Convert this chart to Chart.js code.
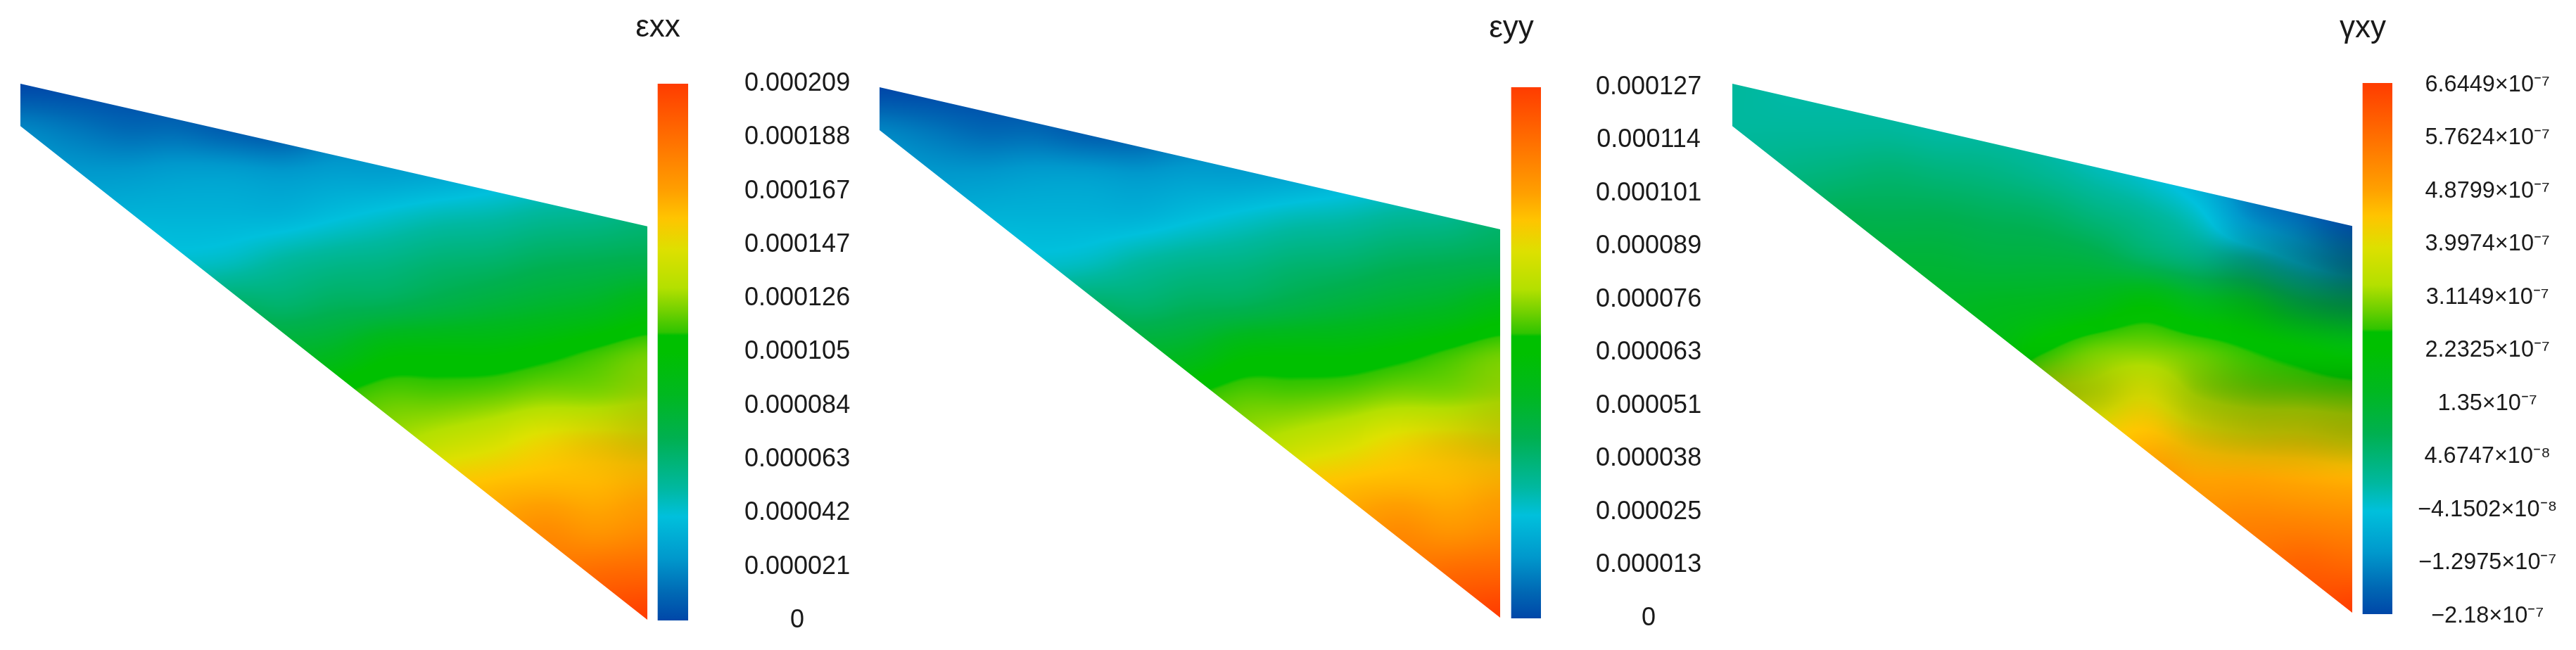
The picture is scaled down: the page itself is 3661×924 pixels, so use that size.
<!DOCTYPE html>
<html><head><meta charset="utf-8">
<style>html,body{margin:0;padding:0;background:#fff;width:3661px;height:924px;overflow:hidden}canvas{position:absolute;display:block}</style>
<script src="https://cdn.jsdelivr.net/npm/chart.js@4/dist/chart.umd.min.js"></script>
</head><body>
<script>
// ---- data: legend ----
const exxTitle = 'εxx', eyyTitle = 'εyy', gxyTitle = 'γxy';
const exxTicks = [0,0.0000209,0.0000418,0.0000627,0.0000836,0.0001045,0.0001254,0.0001463,0.0001672,0.0001881,0.000209];
const exxLabels = ['0','0.000021','0.000042','0.000063','0.000084','0.000105','0.000126','0.000147','0.000167','0.000188','0.000209'];
const eyyTicks = [0,0.0000127,0.0000254,0.0000381,0.0000508,0.0000635,0.0000762,0.0000889,0.0001016,0.0001143,0.000127];
const eyyLabels = ['0','0.000013','0.000025','0.000038','0.000051','0.000063','0.000076','0.000089','0.000101','0.000114','0.000127'];
const gxyTicks = [-2.18e-7,-1.2975e-7,-4.1502e-8,4.6747e-8,1.35e-7,2.2325e-7,3.1149e-7,3.9974e-7,4.8799e-7,5.7624e-7,6.6449e-7];
const gxyLabels = ['−2.18×10⁻⁷','−1.2975×10⁻⁷','−4.1502×10⁻⁸','4.6747×10⁻⁸','1.35×10⁻⁷','2.2325×10⁻⁷','3.1149×10⁻⁷','3.9974×10⁻⁷','4.8799×10⁻⁷','5.7624×10⁻⁷','6.6449×10⁻⁷'];

// ---- data: plate outline (percent of plot box) ----
const exxOutline = [[0,0],[100,26.6],[100,100],[0,7.9],[0,0]];
const eyyOutline = [[0,0],[100,26.8],[100,100],[0,8.1],[0,0]];
const gxyOutline = [[0,0],[100,26.9],[100,100],[0,8.0],[0,0]];

// ---- data: field, percent of colour-bar range ----
const gridCols = [0,8.33,16.67,25,33.33,41.67,50,58.33,66.67,75,83.33,91.67,100];
const gridRows = [0,8.33,16.67,25,33.33,41.67,50,58.33,66.67,75,83.33,91.67,100];
const exxField = [
 [0,0,0,0,0,0,0,0,0,0,5,8,10],
 [9,7,5,5,3,2,6,8,10,12,14,16,18],
 [13,12,12,13,13,12,13,13,14,16,18,20,24],
 [16,16,17,17,17,17,19,21,23,24,26,27,29],
 [20,20,22,21,22,25,27,28,30,31,33,34,35],
 [25,25,28,30,32,31,33,34,36,38,40,42,46],
 [35,35,36,38,40,40,42,48,49,49,51,54,57],
 [40,40,40,42,46,48,53,56,56,57,59,59,61],
 [45,45,45,46,50,52,55,60,64,67,71,72,71],
 [50,50,50,50,52,54,56,62,73,76,77,77,78],
 [55,55,55,55,56,58,60,64,75,80,84,82,84],
 [60,60,60,60,62,64,66,68,78,84,88,91,92],
 [65,65,65,65,66,68,72,74,80,88,94,97,100]];
const eyyField = [
 [0,0,0,0,0,0,0,0,0,0,5,8,10],
 [9,7,5,5,3,3,6,8,10,12,14,16,18],
 [13,12,12,13,13,12,13,13,14,16,18,20,24],
 [16,16,17,17,17,17,19,21,23,24,26,27,30],
 [20,20,22,21,22,25,27,28,30,31,33,34,35],
 [25,25,28,30,32,31,33,34,36,38,40,42,46],
 [35,35,36,38,40,40,42,48,49,49,51,54,57],
 [40,40,40,42,46,48,53,56,56,57,59,59,61],
 [45,45,45,46,50,52,55,60,64,67,71,72,71],
 [50,50,50,50,52,54,56,62,73,76,77,77,78],
 [55,55,55,55,56,58,60,64,75,80,84,82,84],
 [60,60,60,60,62,64,66,68,78,84,88,91,92],
 [65,65,65,65,66,68,72,74,80,88,94,97,100]];
const gxyField = [
 [25,24,24,24,24,24,23,22,20,16,10,4,0],
 [25,25,25,25,24,24,23,20,18,15,8,3,0],
 [27,28,29,30,29,28,26,23,20,15,7,3,0],
 [30,32,34,34,34,33,32,29,26,21,10,5,0],
 [32,36,38,38,38,37,37,36,32,28,25,18,12],
 [35,38,40,41,41,42,43,45,49,44,43,36,33],
 [38,40,42,44,45,46,52,57,58,56,53,50,47],
 [40,42,44,46,48,52,62,64,68,61,58,57,56],
 [44,46,48,50,52,58,66,72,76,72,70,70,68],
 [48,50,52,54,56,62,70,76,82,80,80,79,78],
 [52,54,56,58,60,66,74,80,85,85,86,86,85],
 [56,58,60,62,64,70,78,84,88,90,90,93,92],
 [60,62,64,66,68,74,82,88,92,94,95,96,100]];

// ---- styles ----
const colourStops = [[0,'#0047a8'],[.05,'#0068b4'],[.115,'#0098cc'],[.194,'#00c0dc'],[.246,'#00b8a0'],[.34,'#00b050'],[.42,'#00b820'],[.5,'#00c000'],[.531,'#00c000'],[.537,'#30c400'],[.575,'#70d000'],[.62,'#b4e000'],[.69,'#dde000'],[.75,'#ffc400'],[.80,'#ffa000'],[.88,'#ff7800'],[1,'#ff3c00']];
const exxDim = [[12,8,.88],[11,8,.94],[12,7,.94],[12,9,.97]];
const eyyDim = [[12,8,.88],[11,8,.94],[12,7,.94],[12,9,.97]];
const gxyDim = [[10,4,.8],[11,4,.7],[12,4,.62],[9,4,.95],[11,5,.82],[12,5,.74],[10,5,.92],
                [12,7,.85],[12,8,.78],[11,7,.85],[11,8,.8],[10,7,.85],[10,8,.82],[9,7,.88],[9,8,.88],[8,7,.95],[6,7,.82],[7,7,.88]];

const rgbStops = colourStops.map(([t,c])=>[t,parseInt(c.slice(1,3),16),parseInt(c.slice(3,5),16),parseInt(c.slice(5,7),16)]);
function cmap(t){
  t=Math.max(0,Math.min(1,t));
  for(let i=1;i<rgbStops.length;i++){ if(t<=rgbStops[i][0]){
    const a=rgbStops[i-1],b=rgbStops[i],k=(t-a[0])/(b[0]-a[0]);
    return [a[1]+(b[1]-a[1])*k,a[2]+(b[2]-a[2])*k,a[3]+(b[3]-a[3])*k]; } }
  return rgbStops[rgbStops.length-1].slice(1);
}
function axisKernel(arr,v){
  let i=0;while(i<arr.length-2&&v>arr[i+1])i++;
  const k=Math.max(0,Math.min(1,(v-arr[i])/(arr[i+1]-arr[i]))),n=arr.length-1;
  const idx=[Math.max(i-1,0),i,i+1,Math.min(i+2,n)];
  const k2=k*k,k3=k2*k;
  return {idx,w:[-.5*k3+k2-.5*k,1.5*k3-2.5*k2+1,-1.5*k3+2*k2+.5*k,.5*k3-.5*k2]};
}
function sample(g,ky,kx){
  let s=0;
  for(let a=0;a<4;a++){const r=g[ky.idx[a]],wa=ky.w[a];
    s+=wa*(r[kx.idx[0]]*kx.w[0]+r[kx.idx[1]]*kx.w[1]+r[kx.idx[2]]*kx.w[2]+r[kx.idx[3]]*kx.w[3]);}
  return s;
}
function buildFieldPattern(chart,field,dim){
  const W=chart.width,H=chart.height,sx=chart.scales.x,sy=chart.scales.y;
  const off=document.createElement('canvas');off.width=W;off.height=H;
  const c=off.getContext('2d'),img=c.createImageData(W,H),d=img.data;
  const nodeRGB=[0,1,2].map(q=>field.map(r=>r.map(v=>cmap(v/100)[q])));
  const shade=field.map(r=>r.map(()=>1));
  dim.forEach(([ci,ri,f])=>shade[ri][ci]=f);
  const weight=field.map((r,j)=>r.map((v,i)=>{
    let m=0;
    for(let a=-1;a<=1;a++)for(let b=-1;b<=1;b++){
      if(field[j+a]&&field[j+a][i+b]!==undefined&&(a===0||b===0))m=Math.max(m,Math.abs(field[j+a][i+b]-v));}
    return Math.max(0,Math.min(1,(m-16)/8));
  }));
  const kx=[],ky=[];
  for(let p=0;p<W;p++)kx.push(axisKernel(gridCols,sx.getValueForPixel(p+.5)));
  for(let p=0;p<H;p++)ky.push(axisKernel(gridRows,sy.getValueForPixel(p+.5)));
  let o=0;
  for(let y=0;y<H;y++){const Y=ky[y];
    for(let x=0;x<W;x++){const X=kx[x];
      const t=sample(field,Y,X),w=Math.max(0,Math.min(1,sample(weight,Y,X))),s=sample(shade,Y,X);
      const a=cmap(t/100);
      for(let q=0;q<3;q++){
        let val=a[q];
        if(w>0) val=val*(1-w)+sample(nodeRGB[q],Y,X)*w;
        d[o+q]=Math.max(0,val*s);
      }
      d[o+3]=255;o+=4;
    }
  }
  c.putImageData(img,0,0);
  return chart.ctx.createPattern(off,'no-repeat');
}
function addCanvas(l,t,w,h){
  const cv=document.createElement('canvas');cv.width=w;cv.height=h;
  cv.style.left=l+'px';cv.style.top=t+'px';cv.style.width=w+'px';cv.style.height=h+'px';
  document.body.appendChild(cv);return cv;
}
function fieldChart(box,outline,field,dim){
  let pattern=null;
  return new Chart(addCanvas(box[0],box[1],box[2],box[3]),{
    type:'scatter',
    data:{datasets:[{data:outline.map(([x,y])=>({x,y})),showLine:true,fill:'shape',tension:0,pointRadius:0,borderWidth:0,
      backgroundColor:ctx=>{
        if(!ctx.chart.chartArea) return 'rgba(0,0,0,0)';
        if(!pattern) pattern=buildFieldPattern(ctx.chart,field,dim);
        return pattern; }}]},
    options:{responsive:false,animation:false,devicePixelRatio:1,layout:{padding:0},
      plugins:{legend:{display:false},tooltip:{enabled:false}},
      scales:{x:{type:'linear',min:0,max:100,display:false},y:{type:'linear',min:0,max:100,reverse:true,display:false}}}
  });
}
function barChart(b,title,ticks,labels,fonts){
  const lo=ticks[0],hi=ticks[ticks.length-1];
  return new Chart(addCanvas(b.left-b.w,0,2*b.w+b.axis,924),{
    type:'bar',
    plugins:[{id:'pinBarSpan',afterLayout(chart){
      const y=chart.scales.y;
      chart.chartArea.top=b.top;chart.chartArea.bottom=b.bottom;chart.chartArea.height=b.bottom-b.top;
      y.top=b.top;y.bottom=b.bottom;y.height=b.bottom-b.top;y.configure();
    }}],
    data:{labels:['',title],datasets:[{data:[null,[lo,hi]],barPercentage:1,categoryPercentage:1,borderWidth:0,
      backgroundColor:ctx=>{const a=ctx.chart.chartArea;if(!a)return '#000';
        const g=ctx.chart.ctx.createLinearGradient(0,a.bottom,0,a.top);colourStops.forEach(([t,c])=>g.addColorStop(t,c));return g;}}]},
    options:{responsive:false,animation:false,devicePixelRatio:1,layout:{padding:{bottom:924-b.bottom,left:0,right:0,top:0}},
      plugins:{legend:{display:false},tooltip:{enabled:false}},
      scales:{
        x:{position:'top',grid:{display:false},border:{display:false},ticks:{display:false},
           title:{display:true,text:title,color:'#1a1a1a',font:{family:'"Liberation Sans"',size:fonts.title},padding:{top:b.titlePad,bottom:0}},
           afterFit:s=>{s.height=b.top;}},
        y:{position:'right',min:lo,max:hi,border:{display:false},grid:{display:false,drawTicks:false},
           afterBuildTicks:s=>{s.ticks=ticks.map(value=>({value}));},
           afterFit:s=>{s.width=b.axis;},
           ticks:{autoSkip:false,crossAlign:'center',padding:b.pad,labelOffset:b.labelOffset||0,color:'#1a1a1a',font:{family:'"Liberation Sans"',size:fonts.tick},
             callback:(v,i)=>labels[i]}}
      }}
  });
}
fieldChart([29,119,891,762],exxOutline,exxField,exxDim);
fieldChart([1250,124,882,754],eyyOutline,eyyField,eyyDim);
fieldChart([2462,119,881,752],gxyOutline,gxyField,gxyDim);
barChart({left:935,w:43,top:119,bottom:882,axis:320,pad:80,titlePad:13},exxTitle,exxTicks,exxLabels,{title:44,tick:36});
barChart({left:2148,w:42,top:124,bottom:879,axis:320,pad:78,titlePad:14},eyyTitle,eyyTicks,eyyLabels,{title:44,tick:36});
barChart({left:3358,w:42,top:118,bottom:873,axis:255,pad:36,labelOffset:3,titlePad:14},gxyTitle,gxyTicks,gxyLabels,{title:44,tick:32.5});
</script>
</body></html>
